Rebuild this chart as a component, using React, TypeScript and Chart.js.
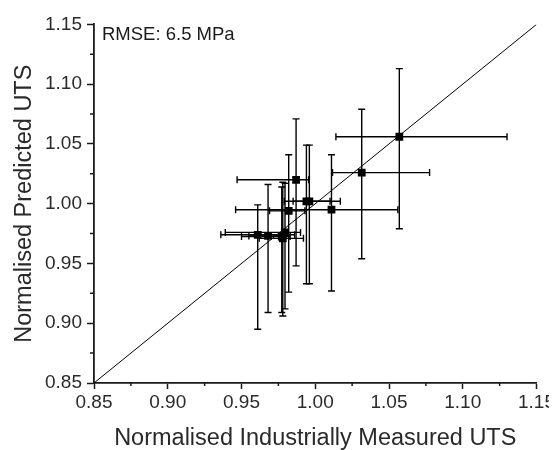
import React, { useEffect, useRef } from "react";
import { Chart, registerables } from "chart.js";

Chart.register(...registerables);

// ---- data ----
const measured = [1.057, 1.0315, 1.011, 0.987, 0.994, 0.996, 0.982, 0.961, 0.968, 0.9773, 0.978, 0.9795];
const predicted = [1.056, 1.026, 0.995, 1.02, 1.002, 1.002, 0.994, 0.974, 0.973, 0.9725, 0.971, 0.976];
const measuredLow = [1.014, 1.0117, 0.946, 0.947, 0.979, 0.985, 0.969, 0.936, 0.955, 0.95, 0.962, 0.939];
const measuredHigh = [1.13, 1.0775, 1.056, 0.9955, 1.017, 1.01, 0.993, 0.986, 0.98, 0.983, 0.992, 0.99];
const predictedLow = [0.979, 0.954, 0.927, 0.948, 0.933, 0.933, 0.926, 0.895, 0.909, 0.909, 0.906, 0.912];
const predictedHigh = [1.113, 1.079, 1.041, 1.071, 1.049, 1.049, 1.041, 0.999, 1.016, 1.014, 1.018, 1.017];
const identityLine = [0.85, 1.15];
const axisMin = 0.85;
const axisMax = 1.15;
const majorStep = 0.05;
const minorTicks = [0.875, 0.925, 0.975, 1.025, 1.075, 1.125];
const annotation = "RMSE: 6.5 MPa";
const xTitle = "Normalised Industrially Measured UTS";
const yTitle = "Normalised Predicted UTS";

const FONT = "'Liberation Sans', Arial, sans-serif";
const INK = "#1a1a1a";
const TEXT = "#2a2a2a";

const errorBarPlugin = {
  id: "errorBars",
  beforeDatasetDraw(chart: any, args: any) {
    if (args.index !== 1) return;
    const { ctx, chartArea } = chart;
    const xs = chart.scales.x;
    const ys = chart.scales.y;
    const cap = 3.5;
    ctx.save();
    ctx.beginPath();
    ctx.rect(chartArea.left, chartArea.top, chartArea.right - chartArea.left, chartArea.bottom - chartArea.top);
    ctx.clip();
    ctx.strokeStyle = "#000";
    ctx.lineWidth = 1.4;
    for (let i = 0; i < measured.length; i++) {
      const cx = xs.getPixelForValue(measured[i]);
      const cy = ys.getPixelForValue(predicted[i]);
      const x0 = xs.getPixelForValue(measuredLow[i]);
      const x1 = xs.getPixelForValue(measuredHigh[i]);
      const y0 = ys.getPixelForValue(predictedLow[i]);
      const y1 = ys.getPixelForValue(predictedHigh[i]);
      ctx.beginPath();
      ctx.moveTo(x0, cy); ctx.lineTo(x1, cy);
      ctx.moveTo(x0, cy - cap); ctx.lineTo(x0, cy + cap);
      ctx.moveTo(x1, cy - cap); ctx.lineTo(x1, cy + cap);
      ctx.moveTo(cx, y0); ctx.lineTo(cx, y1);
      ctx.moveTo(cx - cap, y0); ctx.lineTo(cx + cap, y0);
      ctx.moveTo(cx - cap, y1); ctx.lineTo(cx + cap, y1);
      ctx.stroke();
    }
    ctx.restore();
  },
  afterDraw(chart: any) {
    const { ctx, chartArea } = chart;
    const xs = chart.scales.x;
    const ys = chart.scales.y;
    ctx.save();
    ctx.strokeStyle = INK;
    ctx.lineWidth = 1.5;
    ctx.beginPath();
    for (const v of minorTicks) {
      const px = xs.getPixelForValue(v);
      ctx.moveTo(px, chartArea.bottom);
      ctx.lineTo(px, chartArea.bottom + 3);
      const py = ys.getPixelForValue(v);
      ctx.moveTo(chartArea.left, py);
      ctx.lineTo(chartArea.left - 4, py);
    }
    ctx.stroke();
    ctx.fillStyle = INK;
    ctx.font = `18.5px ${FONT}`;
    ctx.textBaseline = "alphabetic";
    ctx.textAlign = "left";
    ctx.fillText(annotation, chartArea.left + 8, chartArea.top + 15.5);
    ctx.restore();
  },
};

export default function App() {
  const ref = useRef<HTMLCanvasElement | null>(null);
  useEffect(() => {
    if (!ref.current) return;
    const chart = new Chart(ref.current, {
      type: "scatter",
      data: {
        datasets: [
          {
            data: identityLine.map((v) => ({ x: v, y: v })),
            showLine: true,
            borderColor: "#000",
            borderWidth: 1,
            pointRadius: 0,
          },
          {
            data: measured.map((v, i) => ({ x: v, y: predicted[i] })),
            pointStyle: "rect",
            pointRadius: 5.5,
            backgroundColor: "#000",
            borderColor: "#000",
            borderWidth: 0,
          },
        ],
      },
      plugins: [errorBarPlugin],
      options: {
        animation: false,
        responsive: false,
        maintainAspectRatio: false,
        layout: { padding: { top: 16, right: 19, left: 0, bottom: 0 } },
        plugins: { legend: { display: false }, tooltip: { enabled: false } },
        scales: {
          x: {
            type: "linear",
            min: axisMin,
            max: axisMax,
            afterFit: (s: any) => { s.height = 67; },
            ticks: {
              stepSize: majorStep,
              callback: (v: any) => Number(v).toFixed(2),
              font: { family: FONT, size: 19 },
              color: TEXT,
              padding: 2,
              maxRotation: 0,
              autoSkip: false,
            },
            grid: { drawOnChartArea: false, tickLength: 6, tickColor: INK, tickWidth: 1.5 },
            border: { display: true, color: INK, width: 1.8 },
            title: {
              display: true,
              text: xTitle,
              font: { family: FONT, size: 23.5, lineHeight: 1 },
              color: TEXT,
              padding: { top: 0, bottom: 0 },
            },
          },
          y: {
            type: "linear",
            min: axisMin,
            max: axisMax,
            afterFit: (s: any) => { s.width = 86; },
            ticks: {
              stepSize: majorStep,
              callback: (v: any) => Number(v).toFixed(2),
              font: { family: FONT, size: 19 },
              color: TEXT,
              padding: 5,
              autoSkip: false,
            },
            grid: { drawOnChartArea: false, tickLength: 7, tickColor: INK, tickWidth: 1.5 },
            border: { display: true, color: INK, width: 1.8 },
            title: {
              display: true,
              text: yTitle,
              font: { family: FONT, size: 23.5, lineHeight: 1 },
              color: TEXT,
              padding: { top: 5, bottom: 0 },
            },
          },
        },
      },
    });
    return () => chart.destroy();
  }, []);
  return (
    <div style={{ width: 549, height: 442 }}>
      <canvas ref={ref} width={549} height={442} style={{ display: "block" }} />
    </div>
  );
}
